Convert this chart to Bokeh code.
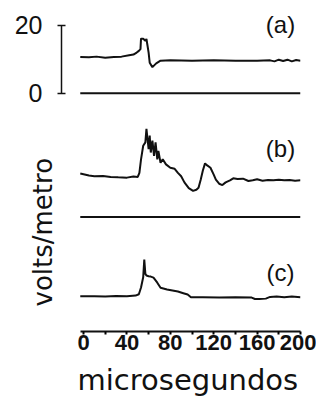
import numpy as np
from bokeh.plotting import figure
from bokeh.models import Range1d, FixedTicker, Title, LinearAxis
from bokeh.core.properties import value
from bokeh.embed import file_html
from bokeh.resources import INLINE

# ---- data (microseconds vs volts/metro) ----
a_x = [-3, 5, 12, 20, 28, 35, 42, 46, 49, 51, 52.5, 53, 55, 57, 58, 59, 60, 61, 63.5, 67, 71,
       80, 100, 120, 140, 160, 172, 176, 180, 184, 188, 192, 196, 200]
a_y = [10.7, 10.6, 10.8, 10.5, 10.7, 10.8, 11.2, 11.4, 12.0, 12.5, 13.0, 16.1, 16.1, 15.5, 16.0,
       14.0, 12.0, 9.0, 7.7, 8.8, 9.6, 9.7, 9.6, 9.7, 9.6, 9.6, 9.7, 9.4, 9.9, 9.5, 9.9, 9.4, 9.8, 9.6]

b_x = [-3, 5, 10, 18, 25, 32, 40, 46, 50, 51.5, 53, 55, 57, 58, 59, 60, 61, 62, 63.5, 65, 66.4,
       68, 69, 71, 73, 76, 80, 84, 87, 90, 93, 97, 101, 104, 106, 108, 110, 112, 114, 117, 120,
       122, 125, 128, 131, 135, 138, 142, 147, 152, 156, 160, 165, 170, 175, 180, 185, 190, 195, 200]
b_y = [12.8, 12.2, 12.0, 12.1, 11.8, 11.7, 11.6, 11.9, 11.8, 13.0, 17.0, 21.0, 22.0, 26.0, 23.0,
       20.0, 24.0, 19.0, 22.5, 18.0, 22.0, 17.0, 19.5, 16.0, 17.0, 15.5, 14.5, 14.2, 13.0, 12.0,
       10.2, 8.5, 7.7, 8.0, 8.6, 11.0, 13.7, 15.8, 15.2, 14.5, 12.5, 11.0, 9.8, 9.4, 10.2, 10.8,
       11.4, 11.2, 11.3, 10.6, 10.8, 11.1, 10.7, 10.9, 10.8, 11.0, 10.8, 10.9, 10.7, 10.8]

c_x = [-3, 10, 20, 30, 40, 48, 51, 53, 55, 56, 57, 58, 60, 62, 64.5, 68, 71, 77, 82, 87, 92, 96,
       99, 110, 125, 140, 155, 158, 162, 168, 172, 178, 185, 192, 200]
c_y = [10.4, 10.4, 10.3, 10.5, 10.4, 10.6, 11.0, 13.0, 16.0, 21.2, 17.0, 16.5, 16.3, 16.2, 15.9,
       14.4, 12.9, 12.4, 12.1, 11.8, 11.3, 10.9, 10.1, 10.1, 10.0, 10.1, 10.0, 9.6, 9.6, 9.7, 10.2,
       10.3, 10.1, 10.3, 10.1]

panel_labels = ["(a)", "(b)", "(c)"]
x_ticks = [0, 40, 80, 120, 160, 200]
x_minor = [20, 60, 100, 140, 180]
y_ticks = [0, 20]
x_title = "microsegundos"
y_title = "volts/metro"

# vertical stacking offsets of the three panels (layout)
offsets = [0.0, -36.5, -70.3]

INK = "#111111"

p = figure(width=316, height=405, output_backend="svg", toolbar_location=None,
           x_range=Range1d(-20.3, 200), y_range=Range1d(-70.3, 25.0),
           min_border_left=61, min_border_right=16, min_border_top=8, min_border_bottom=71)
p.outline_line_color = None
p.grid.visible = False
p.background_fill_color = "white"

xs = [a_x, b_x, c_x]
ys = [a_y, b_y, c_y]
for x, y, off in zip(xs, ys, offsets):
    p.line(x, np.array(y) + off, line_color=INK, line_width=2)

# zero lines of panels (a) and (b)
for x, off in zip(xs[:2], offsets[:2]):
    p.line([min(x), max(x)], [off, off], line_color=INK, line_width=2)

# panel labels
lab_x = [181.6, 181.6, 181.6]
lab_y = [20.3, -16.2, -52.9]
p.text(x=lab_x, y=lab_y, text=panel_labels, text_font=value("Liberation Sans"),
       text_font_size="24px", text_align="center", text_baseline="middle", text_color=INK)

# x axis
xa = p.xaxis[0]
xa.ticker = FixedTicker(ticks=x_ticks, minor_ticks=x_minor)
xa.bounds = (-3, 200)
xa.axis_line_width = 2
xa.axis_line_color = INK
xa.major_tick_in = 0
xa.major_tick_out = 3
xa.minor_tick_in = 0
xa.minor_tick_out = 3
xa.major_tick_line_width = 2
xa.minor_tick_line_width = 2
xa.major_label_text_font = "Liberation Sans"
xa.major_label_text_font_style = "bold"
xa.major_label_text_font_size = "22px"
xa.major_label_text_color = INK
xa.major_label_standoff = 0

# y axis rule (line + end caps as unlabeled ticks), adjacent to the frame
ya = p.yaxis[0]
ya.ticker = FixedTicker(ticks=[], minor_ticks=y_ticks)
ya.bounds = (0, 20)
ya.axis_line_width = 1.5
ya.axis_line_color = INK
ya.major_tick_in = 0
ya.major_tick_out = 0
ya.minor_tick_in = 4
ya.minor_tick_out = 4
ya.minor_tick_line_width = 1.5
ya.minor_tick_line_color = INK
ya.major_label_standoff = 0

# y-axis title, next panel out
p.add_layout(Title(text=y_title, align="left", offset=25, standoff=0,
                   text_font="DejaVu Sans", text_font_size="26px", text_font_style="normal",
                   text_color=INK), "left")

# y tick labels, outermost panel
yb = LinearAxis(ticker=FixedTicker(ticks=y_ticks, minor_ticks=[]), bounds=(0, 20),
                axis_line_color=None, major_tick_line_color=None, minor_tick_line_color=None,
                major_tick_in=0, major_tick_out=0, minor_tick_in=0, minor_tick_out=0,
                major_label_standoff=-17, major_label_text_font="Liberation Sans",
                major_label_text_font_size="25px", major_label_text_color=INK)
p.add_layout(yb, "left")

p.add_layout(Title(text=x_title, align="left", offset=16, standoff=17,
                   text_font="DejaVu Sans", text_font_size="29px", text_font_style="normal",
                   text_color=INK), "below")

open("out.html", "w").write(file_html(p, INLINE))
